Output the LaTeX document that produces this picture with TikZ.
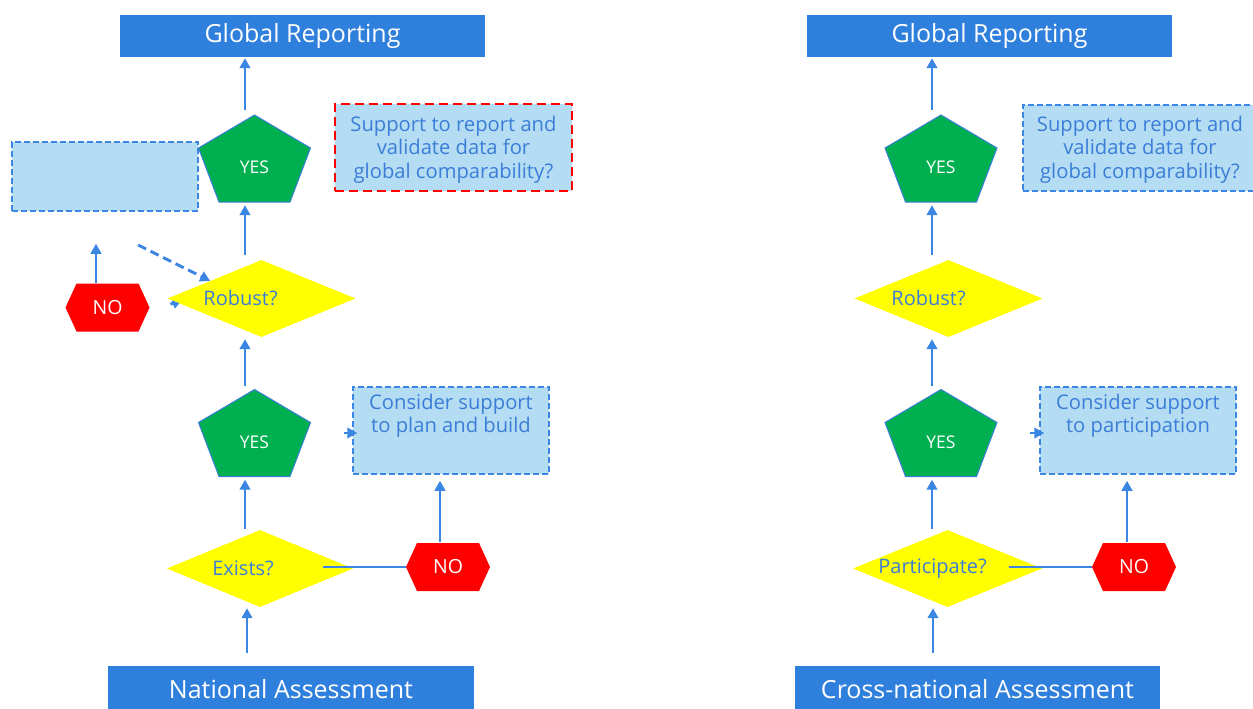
\documentclass[tikz,border=0pt]{standalone}
\usepackage{fontspec}
\setmainfont{Open Sans}
\usetikzlibrary{shapes.geometric,arrows.meta,calc}
\definecolor{darkbox}{RGB}{47,127,220}
\definecolor{lightfill}{RGB}{180,221,243}
\definecolor{bluetxt}{RGB}{59,125,216}
\definecolor{arrowblue}{RGB}{58,134,226}
\definecolor{yesgreen}{RGB}{0,176,80}
\definecolor{diayellow}{RGB}{255,255,0}
\definecolor{nored}{RGB}{255,0,0}
\newcommand\pentnode[3]{%
  \filldraw[fill=yesgreen,draw=bluetxt,line width=1] (#2,#3) ++(0,-43.5) -- ++(-56,33) -- ++(20.5,54) -- ++(71,0) -- ++(20.5,-54) -- cycle;
  \node[penttext] (#1) at (#2,#3) {};
  \node[pentlabel] at ([yshift=-9]#1.center) {YES};}
\newcommand\hexnode[3]{%
  \fill[nored] (#2,#3) ++(-42,0) -- ++(11,-24) -- ++(62,0) -- ++(11,24) -- ++(-11,24) -- ++(-62,0) -- cycle;
  \node[hextext] (#1) at (#2,#3) {NO};}
\begin{document}
\begin{tikzpicture}[x=1pt,y=-1pt,
  gbox/.style={fill=darkbox,text=white,font=\fontsize{25}{29}\selectfont,minimum width=365,minimum height=42,inner sep=0},
  lbox/.style={fill=lightfill,draw=arrowblue,line width=1.5,dash pattern=on 6pt off 3pt,inner sep=0},
  rbox/.style={fill=lightfill,draw=nored,line width=1.9,dash pattern=on 9pt off 5pt,inner sep=0},
  boxtext/.style={text=bluetxt,font=\fontsize{20.2}{23.5}\selectfont,align=center},
  dia/.style={diamond,fill=diayellow,aspect=2.5,inner sep=0,minimum width=188,minimum height=77},
  diatext/.style={text=bluetxt,font=\fontsize{20}{23}\selectfont},
  penttext/.style={minimum width=112,minimum height=87,inner sep=0},
  pentlabel/.style={text=white,font=\fontsize{17.5}{20}\selectfont,inner sep=0},
  hextext/.style={minimum width=84,minimum height=48,inner sep=0,text=white,font=\fontsize{19.5}{22}\selectfont},
  arr/.style={draw=arrowblue,line width=2.9,-{Triangle[length=10pt,width=10.5pt]}},
  plain/.style={draw=arrowblue,line width=2.9}
]
\useasboundingbox (0,0) rectangle (1253,709);
% ---------- left column ----------
\node[gbox] (glob1) at (302.5,36) {Global Reporting};
\node[gbox,minimum width=366,minimum height=46] (nat) at (291,689) {National Assessment};
\node[lbox,minimum width=186,minimum height=69] (empty) at (105,176.5) {};
\node[rbox,minimum width=237,minimum height=87] (sup1) at (453.5,147.5) {};
\node[boxtext] at ([yshift=-2]sup1.center) {Support to report and\\validate data for\\global comparability?};
\node[lbox,minimum width=196,minimum height=87,
  label={[boxtext,anchor=north,yshift=-4]north:{Consider support\\to plan and build}}] (cons1) at (451,430.5) {};
\hexnode{no1}{107.5}{307.5}
\node[dia,label={[diatext,xshift=-21]center:Robust?}] (rob1) at (261.5,298.5) {};
\node[dia,minimum width=186,label={[diatext,xshift=-17]center:Exists?}] (ex1) at (260,568.5) {};
\pentnode{yes1}{254.5}{158.5}
\pentnode{yes2}{254.5}{433}
\hexnode{no2}{448}{567}
\coordinate (cL) at (245,0);
\coordinate (cLb) at (247,0);
\coordinate (cN1) at (96,0);
\coordinate (cN2) at (440,0);
\draw[arr,shorten <=13,shorten >=1] (nat.north -| cLb) -- (ex1.south -| cLb);
\draw[arr,shorten <=1,shorten >=3] (ex1.north -| cL) -- (yes2.south -| cL);
\draw[arr,shorten <=3,shorten >=2] (yes2.north -| cL) -- (rob1.south -| cL);
\draw[arr,shorten <=5,shorten >=3] (rob1.north -| cL) -- (yes1.south -| cL);
\draw[arr,shorten <=5,shorten >=1] (yes1.north -| cL) -- (glob1.south -| cL);
\draw[plain] ([xshift=63]ex1.center |- no2.west) -- (no2.west);
\draw[arr,shorten <=1,shorten >=6] (no2.north -| cN2) -- (cons1.south -| cN2);
\draw[arr,shorten >=32] (no1.north -| cN1) -- (empty.south -| cN1);
\coordinate (ds1) at (138,245);
\draw[arr,dash pattern=on 9pt off 5pt] (ds1) -- ($(rob1.west)!0.455!(rob1.north)$);
\draw[arr,shorten <=33] (yes2.east) -- ([xshift=5]yes2.east -| cons1.west);
% small arrowhead from NO towards Robust?, its upper part hidden by the diamond
\begin{scope}
  \clip (rob1.west) -- (rob1.south) -- (rob1.south -| no1.east) -- (no1.east |- rob1.west) -- cycle;
  \draw[arr,shorten <=22] ([yshift=-4]no1.east) -- ([xshift=15,yshift=-1.5]rob1.west);
\end{scope}
% ---------- right column ----------
\node[gbox] (glob2) at (989.5,36) {Global Reporting};
\node[gbox,minimum width=365,minimum height=46] (cross) at (977.5,689) {Cross-national Assessment};
\node[lbox,minimum width=237,minimum height=86] (sup2) at (1141.5,148) {};
\node[boxtext] at (1140,149.5) {Support to report and\\validate data for\\global comparability?};
\node[lbox,minimum width=196,minimum height=87,
  label={[boxtext,anchor=north,yshift=-4]north:{Consider support\\to participation}}] (cons2) at (1138,430.5) {};
\node[dia,label={[diatext,xshift=-20]center:Robust?}] (rob2) at (948.5,298.5) {};
\node[dia,minimum width=189,label={[diatext,xshift=-15]center:Participate?}] (part) at (947.5,568.5) {};
\pentnode{yes3}{941}{158.5}
\pentnode{yes4}{941}{433}
\hexnode{no4}{1134}{567}
\coordinate (cR) at (932,0);
\coordinate (cRb) at (933,0);
\coordinate (cN4) at (1127,0);
\draw[arr,shorten <=13,shorten >=1] (cross.north -| cRb) -- (part.south -| cRb);
\draw[arr,shorten <=1,shorten >=3] (part.north -| cR) -- (yes4.south -| cR);
\draw[arr,shorten <=3,shorten >=2] (yes4.north -| cR) -- (rob2.south -| cR);
\draw[arr,shorten <=5,shorten >=3] (rob2.north -| cR) -- (yes3.south -| cR);
\draw[arr,shorten <=5,shorten >=1] (yes3.north -| cR) -- (glob2.south -| cR);
\draw[plain] ([xshift=61.5]part.center |- no4.west) -- (no4.west);
\draw[arr,shorten <=1,shorten >=6] (no4.north -| cN4) -- (cons2.south -| cN4);
\draw[arr,shorten <=33] (yes4.east) -- ([xshift=5]yes4.east -| cons2.west);
\end{tikzpicture}
\end{document}
